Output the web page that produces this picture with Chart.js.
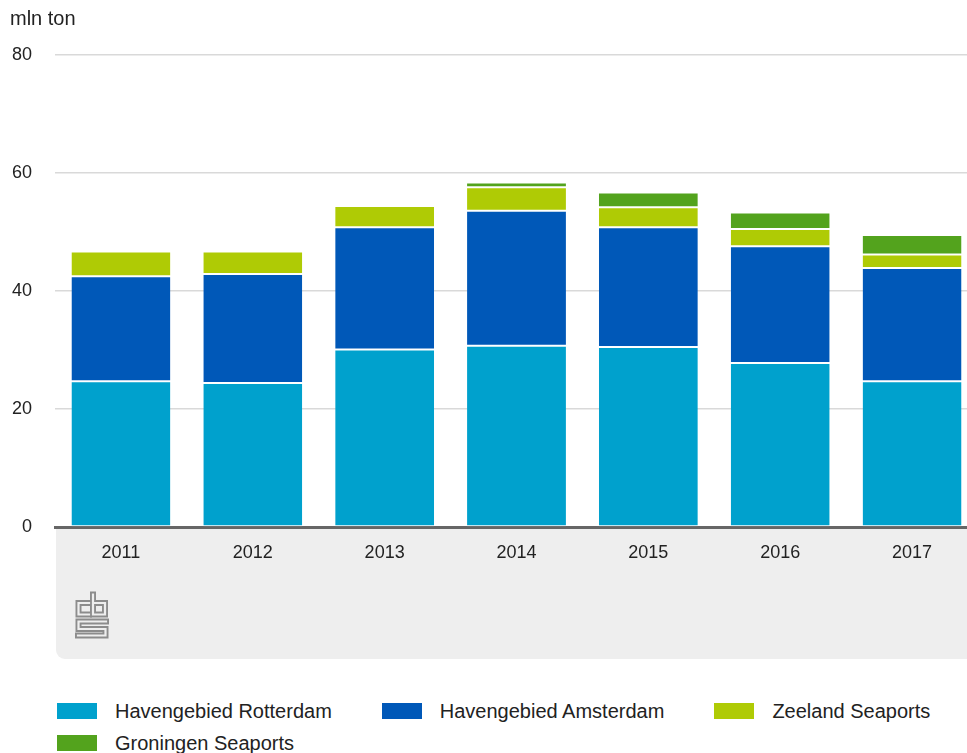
<!DOCTYPE html>
<html>
<head>
<meta charset="utf-8">
<script src="https://cdn.jsdelivr.net/npm/chart.js@4.4.1/dist/chart.umd.min.js"></script>
<style>
    html, body { margin: 0; padding: 0; background: #fff; overflow: hidden; }
    body { width: 967px; height: 753px; position: relative; font-family: "Liberation Sans", Arial, sans-serif; }
    #wrap { position: absolute; left: 0; top: 0; width: 980px; height: 670px; }
    #legend { position: absolute; left: 57px; top: 701px; width: 910px; display: flex; flex-wrap: wrap; column-gap: 50px; row-gap: 12px; font-size: 20px; color: #222; }
    .item { display: flex; align-items: center; height: 20px; white-space: nowrap; }
    .sw { width: 40px; height: 16px; margin-right: 18px; }
</style>
</head>
<body>
<div id="wrap"><canvas id="chart"></canvas></div>
<div id="legend"></div>
<script>
const years = ['2011', '2012', '2013', '2014', '2015', '2016', '2017'];
const rotterdam = [24.7, 24.4, 30.1, 30.7, 30.5, 27.8, 24.7];
const amsterdam = [17.8, 18.5, 20.7, 22.9, 20.3, 19.8, 19.2];
const zeeland = [4.2, 3.8, 3.6, 4.0, 3.4, 2.9, 2.3];
const groningen = [null, null, null, 0.8, 2.5, 2.8, 3.3];
const yTicks = [0, 20, 40, 60, 80];

const seriesNames = ['Havengebied Rotterdam', 'Havengebied Amsterdam', 'Zeeland Seaports', 'Groningen Seaports'];
const seriesColors = ['#00a1cd', '#0058b8', '#afcb05', '#53a31d'];
const seriesData = [rotterdam, amsterdam, zeeland, groningen];

// grey panel under the x axis + cbs logo
const panelPlugin = {
    id: 'panel',
    beforeDraw(chart) {
        const { ctx, chartArea } = chart;
        ctx.save();
        ctx.fillStyle = '#eeeeee';
        ctx.beginPath();
        ctx.roundRect(chartArea.left + 1, chartArea.bottom, chart.width - chartArea.left, 659 - chartArea.bottom, [0, 0, 0, 9]);
        ctx.fill();

        // logo: thick grey strokes, hollowed with a thin panel-coloured stroke
        const x0 = 76, y0 = 592;
        const paths = [
            [[13, 11], [2.5, 11], [2.5, 22.5], [13, 22.5]],
            [[17, 2.5], [17, 22.5], [29, 22.5], [29, 11], [17, 11]],
            [[30, 29.5], [2.5, 29.5], [2.5, 37], [29.5, 37], [29.5, 43.5], [2, 43.5]]
        ];
        ctx.lineJoin = 'miter';
        ctx.lineCap = 'square';
        [[6, '#8c8c8c'], [2.2, '#eeeeee']].forEach(([w, c]) => {
            ctx.lineWidth = w;
            ctx.strokeStyle = c;
            paths.forEach(p => {
                ctx.beginPath();
                p.forEach(([px, py], i) => i ? ctx.lineTo(x0 + px, y0 + py) : ctx.moveTo(x0 + px, y0 + py));
                ctx.stroke();
            });
        });
        ctx.restore();
    }
};

const ctx = document.getElementById('chart').getContext('2d');
new Chart(ctx, {
    type: 'bar',
    data: {
        labels: years,
        datasets: seriesNames.map((name, i) => ({
            label: name,
            data: seriesData[i],
            backgroundColor: seriesColors[i],
            borderColor: '#ffffff',
            borderWidth: { top: 1, bottom: 1, left: 0, right: 0 },
            borderSkipped: false,
            categoryPercentage: 1,
            barPercentage: 0.75
        }))
    },
    options: {
        responsive: true,
        maintainAspectRatio: false,
        animation: false,
        layout: { padding: { left: 10, right: 2, top: 0, bottom: 0 } },
        plugins: {
            legend: { display: false },
            tooltip: { enabled: false },
            title: {
                display: true,
                text: 'mln ton',
                align: 'start',
                color: '#222',
                font: { family: '"Liberation Sans", Arial, sans-serif', size: 20, weight: 'normal' },
                padding: { top: 7, bottom: 24 }
            }
        },
        scales: {
            x: {
                stacked: true,
                grid: { display: false, drawTicks: false },
                border: { display: true, color: '#666666', width: 3 },
                ticks: {
                    color: '#222',
                    padding: 15,
                    font: { family: '"Liberation Sans", Arial, sans-serif', size: 18 }
                },
                afterFit(axis) { axis.height = 143; }
            },
            y: {
                stacked: true,
                min: 0,
                max: 80,
                afterBuildTicks(axis) { axis.ticks = yTicks.map(v => ({ value: v })); },
                grid: { color: '#d9d9d9', lineWidth: 1.5, drawTicks: false },
                border: { display: false },
                ticks: {
                    color: '#222',
                    padding: 23,
                    font: { family: '"Liberation Sans", Arial, sans-serif', size: 18 }
                },
                afterFit(axis) { axis.width = 45; }
            }
        }
    },
    plugins: [panelPlugin]
});

// legend as html
const legend = document.getElementById('legend');
seriesNames.forEach((name, i) => {
    const item = document.createElement('div');
    item.className = 'item';
    item.innerHTML = `<span class="sw" style="background:${seriesColors[i]}"></span><span>${name}</span>`;
    legend.appendChild(item);
});
</script>
</body>
</html>
